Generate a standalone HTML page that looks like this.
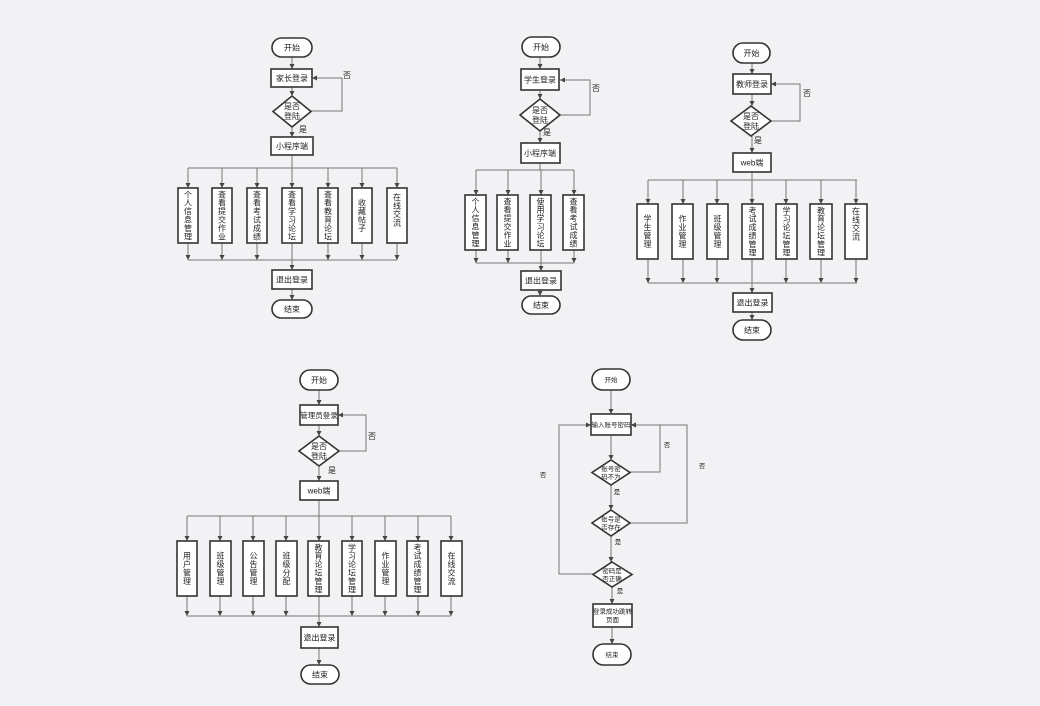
<!DOCTYPE html>
<html><head><meta charset="utf-8"><style>
html,body{margin:0;padding:0;background:#f2f2f4;}
svg{display:block}
text{font-family:"Liberation Sans","Noto Sans CJK SC",sans-serif;font-size:8px;fill:#222;text-anchor:middle;}
.v{writing-mode:vertical-rl;font-size:8px;letter-spacing:0.4px;}
.b{fill:#fff;stroke:#333;stroke-width:1.6;}
.l{fill:none;stroke:#777;stroke-width:1;}
.s{font-size:6.5px;}
</style></head><body>
<svg width="1040" height="706" viewBox="0 0 1040 706" xmlns="http://www.w3.org/2000/svg">
<defs><marker id="a" viewBox="0 0 6 6" refX="6" refY="3" markerWidth="5" markerHeight="5" orient="auto"><path d="M0,0 L6,3 L0,6z" fill="#444"/></marker></defs>

<!-- ===== Chart 1 ===== -->
<g>
<path class="l" marker-end="url(#a)" d="M292,57 V69"/>
<path class="l" marker-end="url(#a)" d="M292,87 V96"/>
<path class="l" marker-end="url(#a)" d="M311,111 H342 V78 H312"/>
<path class="l" marker-end="url(#a)" d="M292,127 V137"/>
<path class="l" d="M292,155 V168 M188,168 H397 M188,260 H397"/>
<path class="l" marker-end="url(#a)" d="M188,168 V188"/><path class="l" marker-end="url(#a)" d="M222,168 V188"/><path class="l" marker-end="url(#a)" d="M257,168 V188"/><path class="l" marker-end="url(#a)" d="M292,168 V188"/><path class="l" marker-end="url(#a)" d="M328,168 V188"/><path class="l" marker-end="url(#a)" d="M362,168 V188"/><path class="l" marker-end="url(#a)" d="M397,168 V188"/>
<path class="l" marker-end="url(#a)" d="M188,243 V260"/><path class="l" marker-end="url(#a)" d="M222,243 V260"/><path class="l" marker-end="url(#a)" d="M257,243 V260"/><path class="l" marker-end="url(#a)" d="M328,243 V260"/><path class="l" marker-end="url(#a)" d="M362,243 V260"/><path class="l" marker-end="url(#a)" d="M397,243 V260"/>
<path class="l" marker-end="url(#a)" d="M292,243 V270"/>
<path class="l" marker-end="url(#a)" d="M292,289 V300"/>
<rect class="b" x="272" y="38" width="40" height="19" rx="9.5"/><text x="292" y="50.5">开始</text>
<rect class="b" x="271" y="69" width="41" height="18"/><text x="292" y="81">家长登录</text>
<path class="b" d="M292,96 L311,111.5 L292,127 L273,111.5z"/><text x="292" y="109">是否</text><text x="292" y="119">登陆</text>
<text x="347" y="78">否</text><text x="303" y="132">是</text>
<rect class="b" x="271" y="137" width="42" height="18"/><text x="292" y="149">小程序端</text>
<rect class="b" x="178" y="188" width="20" height="55"/><text class="v" x="188" y="215.5">个人信息管理</text>
<rect class="b" x="212" y="188" width="20" height="55"/><text class="v" x="222" y="215.5">查看提交作业</text>
<rect class="b" x="247" y="188" width="20" height="55"/><text class="v" x="257" y="215.5">查看考试成绩</text>
<rect class="b" x="282" y="188" width="20" height="55"/><text class="v" x="292" y="215.5">查看学习论坛</text>
<rect class="b" x="318" y="188" width="20" height="55"/><text class="v" x="328" y="215.5">查看教育论坛</text>
<rect class="b" x="352" y="188" width="20" height="55"/><text class="v" x="362" y="215.5">收藏帖子</text>
<rect class="b" x="387" y="188" width="20" height="55"/><text class="v" x="397" y="210">在线交流</text>
<rect class="b" x="272" y="270" width="40" height="19"/><text x="292" y="282.5">退出登录</text>
<rect class="b" x="272" y="300" width="40" height="18" rx="9"/><text x="292" y="312">结束</text>
</g>

<!-- ===== Chart 2 ===== -->
<g>
<path class="l" marker-end="url(#a)" d="M540,57 V69"/>
<path class="l" marker-end="url(#a)" d="M540,90 V99"/>
<path class="l" marker-end="url(#a)" d="M560,115 H590 V80 H560"/>
<path class="l" marker-end="url(#a)" d="M540,130 V143"/>
<path class="l" d="M540,163 V170 M476,170 H574 M476,263 H574"/>
<path class="l" marker-end="url(#a)" d="M476,170 V195"/><path class="l" marker-end="url(#a)" d="M508,170 V195"/><path class="l" marker-end="url(#a)" d="M541,170 V195"/><path class="l" marker-end="url(#a)" d="M574,170 V195"/>
<path class="l" marker-end="url(#a)" d="M476,250 V263"/><path class="l" marker-end="url(#a)" d="M508,250 V263"/><path class="l" marker-end="url(#a)" d="M574,250 V263"/>
<path class="l" marker-end="url(#a)" d="M541,250 V271"/>
<path class="l" marker-end="url(#a)" d="M540,290 V296"/>
<rect class="b" x="522" y="37" width="38" height="20" rx="10"/><text x="541" y="50">开始</text>
<rect class="b" x="521" y="69" width="38" height="21"/><text x="540" y="82.5">学生登录</text>
<path class="b" d="M540,99 L560,115 L540,131 L520,115z"/><text x="540" y="113">是否</text><text x="540" y="123">登陆</text>
<text x="596" y="91">否</text><text x="547" y="135">是</text>
<rect class="b" x="521" y="143" width="39" height="20"/><text x="540" y="156">小程序端</text>
<rect class="b" x="465" y="195" width="21" height="55"/><text class="v" x="475.5" y="222.5">个人信息管理</text>
<rect class="b" x="497" y="195" width="21" height="55"/><text class="v" x="507.5" y="222.5">查看提交作业</text>
<rect class="b" x="530" y="195" width="21" height="55"/><text class="v" x="540.5" y="222.5">使用学习论坛</text>
<rect class="b" x="563" y="195" width="21" height="55"/><text class="v" x="573.5" y="222.5">查看考试成绩</text>
<rect class="b" x="521" y="271" width="40" height="19"/><text x="541" y="283.5">退出登录</text>
<rect class="b" x="522" y="296" width="38" height="18" rx="9"/><text x="541" y="308">结束</text>
</g>

<!-- ===== Chart 3 ===== -->
<g>
<path class="l" marker-end="url(#a)" d="M752,63 V74"/>
<path class="l" marker-end="url(#a)" d="M752,94 V106"/>
<path class="l" marker-end="url(#a)" d="M771,121 H800 V84 H771"/>
<path class="l" marker-end="url(#a)" d="M752,136 V153"/>
<path class="l" d="M752,172 V180 M648,180 H857 M648,283 H857"/>
<path class="l" marker-end="url(#a)" d="M648,180 V204"/><path class="l" marker-end="url(#a)" d="M683,180 V204"/><path class="l" marker-end="url(#a)" d="M717,180 V204"/><path class="l" marker-end="url(#a)" d="M752,180 V204"/><path class="l" marker-end="url(#a)" d="M786,180 V204"/><path class="l" marker-end="url(#a)" d="M821,180 V204"/><path class="l" marker-end="url(#a)" d="M856,180 V204"/>
<path class="l" marker-end="url(#a)" d="M648,259 V283"/><path class="l" marker-end="url(#a)" d="M683,259 V283"/><path class="l" marker-end="url(#a)" d="M717,259 V283"/><path class="l" marker-end="url(#a)" d="M786,259 V283"/><path class="l" marker-end="url(#a)" d="M821,259 V283"/><path class="l" marker-end="url(#a)" d="M856,259 V283"/>
<path class="l" marker-end="url(#a)" d="M752,259 V293"/>
<path class="l" marker-end="url(#a)" d="M752,312 V320"/>
<rect class="b" x="733" y="43" width="37" height="20" rx="10"/><text x="751.5" y="56">开始</text>
<rect class="b" x="733" y="74" width="38" height="20"/><text x="752" y="87">教师登录</text>
<path class="b" d="M751,106 L771,121 L751,136 L731,121z"/><text x="751" y="119">是否</text><text x="751" y="129">登陆</text>
<text x="807" y="96">否</text><text x="758" y="143">是</text>
<rect class="b" x="733" y="153" width="38" height="19"/><text x="752" y="165.5">web端</text>
<rect class="b" x="637" y="204" width="21" height="55"/><text class="v" x="647.5" y="231.5">学生管理</text>
<rect class="b" x="672" y="204" width="21" height="55"/><text class="v" x="682.5" y="231.5">作业管理</text>
<rect class="b" x="707" y="204" width="21" height="55"/><text class="v" x="717.5" y="231.5">班级管理</text>
<rect class="b" x="742" y="204" width="21" height="55"/><text class="v" x="752.5" y="231.5">考试成绩管理</text>
<rect class="b" x="776" y="204" width="21" height="55"/><text class="v" x="786.5" y="231.5">学习论坛管理</text>
<rect class="b" x="810" y="204" width="22" height="55"/><text class="v" x="821" y="231.5">教育论坛管理</text>
<rect class="b" x="845" y="204" width="22" height="55"/><text class="v" x="856" y="224">在线交流</text>
<rect class="b" x="733" y="293" width="39" height="19"/><text x="752.5" y="305.5">退出登录</text>
<rect class="b" x="733" y="320" width="38" height="20" rx="10"/><text x="752" y="333">结束</text>
</g>

<!-- ===== Chart 4 ===== -->
<g>
<path class="l" marker-end="url(#a)" d="M319,390 V405"/>
<path class="l" marker-end="url(#a)" d="M319,425 V436"/>
<path class="l" marker-end="url(#a)" d="M339,451 H366 V415 H338"/>
<path class="l" marker-end="url(#a)" d="M319,466 V481"/>
<path class="l" d="M319,500 V516 M187,516 H451 M187,616 H451"/>
<path class="l" marker-end="url(#a)" d="M187,516 V541"/><path class="l" marker-end="url(#a)" d="M220,516 V541"/><path class="l" marker-end="url(#a)" d="M253,516 V541"/><path class="l" marker-end="url(#a)" d="M286,516 V541"/><path class="l" marker-end="url(#a)" d="M319,516 V541"/><path class="l" marker-end="url(#a)" d="M352,516 V541"/><path class="l" marker-end="url(#a)" d="M385,516 V541"/><path class="l" marker-end="url(#a)" d="M418,516 V541"/><path class="l" marker-end="url(#a)" d="M451,516 V541"/>
<path class="l" marker-end="url(#a)" d="M187,596 V616"/><path class="l" marker-end="url(#a)" d="M220,596 V616"/><path class="l" marker-end="url(#a)" d="M253,596 V616"/><path class="l" marker-end="url(#a)" d="M286,596 V616"/><path class="l" marker-end="url(#a)" d="M352,596 V616"/><path class="l" marker-end="url(#a)" d="M385,596 V616"/><path class="l" marker-end="url(#a)" d="M418,596 V616"/><path class="l" marker-end="url(#a)" d="M451,596 V616"/>
<path class="l" marker-end="url(#a)" d="M319,596 V627"/>
<path class="l" marker-end="url(#a)" d="M319,648 V665"/>
<rect class="b" x="300" y="370" width="38" height="20" rx="10"/><text x="319" y="383">开始</text>
<rect class="b" x="300" y="405" width="38" height="20"/><text x="319" y="418" style="font-size:7.5px">管理员登录</text>
<path class="b" d="M319,436 L339,451 L319,466 L299,451z"/><text x="319" y="449">是否</text><text x="319" y="459">登陆</text>
<text x="372" y="439">否</text><text x="332" y="473">是</text>
<rect class="b" x="300" y="481" width="38" height="19"/><text x="319" y="493.5">web端</text>
<rect class="b" x="177" y="541" width="20" height="55"/><text class="v" x="187" y="568.5">用户管理</text>
<rect class="b" x="210" y="541" width="21" height="55"/><text class="v" x="220.5" y="568.5">班级管理</text>
<rect class="b" x="243" y="541" width="21" height="55"/><text class="v" x="253.5" y="568.5">公告管理</text>
<rect class="b" x="276" y="541" width="21" height="55"/><text class="v" x="286.5" y="568.5">班级分配</text>
<rect class="b" x="308" y="541" width="21" height="55"/><text class="v" x="318.5" y="568.5">教育论坛管理</text>
<rect class="b" x="342" y="541" width="20" height="55"/><text class="v" x="352" y="568.5">学习论坛管理</text>
<rect class="b" x="375" y="541" width="21" height="55"/><text class="v" x="385.5" y="568.5">作业管理</text>
<rect class="b" x="407" y="541" width="21" height="55"/><text class="v" x="417.5" y="568.5">考试成绩管理</text>
<rect class="b" x="441" y="541" width="21" height="55"/><text class="v" x="451.5" y="568.5">在线交流</text>
<rect class="b" x="301" y="627" width="37" height="21"/><text x="319.5" y="640.5">退出登录</text>
<rect class="b" x="301" y="665" width="38" height="19" rx="9.5"/><text x="320" y="677.5">结束</text>
</g>

<!-- ===== Chart 5 ===== -->
<g>
<path class="l" marker-end="url(#a)" d="M611,390 V414"/>
<path class="l" marker-end="url(#a)" d="M611,435 V460"/>
<path class="l" marker-end="url(#a)" d="M630,472 H660 V425 H631"/>
<path class="l" marker-end="url(#a)" d="M611,485 V510"/>
<path class="l" marker-end="url(#a)" d="M630,523 H687 V425 H631"/>
<path class="l" marker-end="url(#a)" d="M611,536 V562"/>
<path class="l" marker-end="url(#a)" d="M593,574 H559 V425 H591"/>
<path class="l" marker-end="url(#a)" d="M612,587 V604"/>
<path class="l" marker-end="url(#a)" d="M612,627 V644"/>
<rect class="b" x="592" y="369" width="38" height="21" rx="10.5"/><text class="s" x="611" y="382">开始</text>
<rect class="b" x="591" y="414" width="40" height="21"/><text class="s" x="611" y="427">输入账号密码</text>
<path class="b" d="M611,460 L630,472.5 L611,485 L592,472.5z"/><text class="s" x="611" y="471">账号密</text><text class="s" x="611" y="479">码不为</text>
<path class="b" d="M611,510 L630,523 L611,536 L592,523z"/><text class="s" x="611" y="521.5">账号是</text><text class="s" x="611" y="529.5">否存在</text>
<path class="b" d="M612,562 L632,574.5 L612,587 L593,574.5z"/><text class="s" x="612" y="573">密码是</text><text class="s" x="612" y="581">否正确</text>
<text class="s" x="667" y="447">否</text><text class="s" x="702" y="468">否</text><text class="s" x="543" y="477">否</text>
<text class="s" x="617" y="494">是</text><text class="s" x="618" y="544">是</text><text class="s" x="620" y="593">是</text>
<rect class="b" x="593" y="604" width="39" height="23"/><text class="s" x="612.5" y="613.5">登录成功跳转</text><text class="s" x="612.5" y="622">页面</text>
<rect class="b" x="593" y="644" width="38" height="21" rx="10.5"/><text class="s" x="612" y="657">结束</text>
</g>
</svg>
</body></html>
